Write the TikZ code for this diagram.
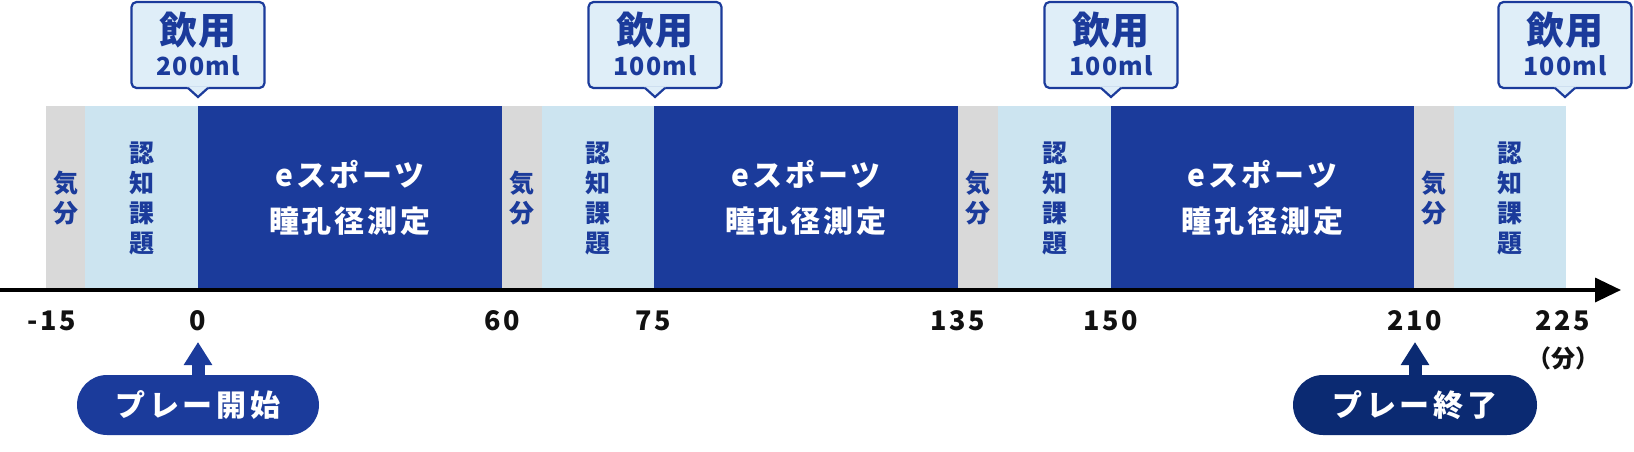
\documentclass[tikz,border=0pt]{standalone}
\usepackage{fontspec}
\setmainfont{Noto Sans CJK JP}
\usetikzlibrary{arrows.meta}
\definecolor{navy}{HTML}{1B3B9B}
\definecolor{navyd}{HTML}{0B2A72}
\definecolor{grayb}{HTML}{D9D9D9}
\definecolor{lightb}{HTML}{CCE4F0}
\definecolor{callf}{HTML}{DFEEF8}
\definecolor{ink}{HTML}{111111}
\begin{document}
\begin{tikzpicture}[x=1pt,y=-1pt,
  seg/.style={inner sep=0pt,outer sep=0pt,minimum height=184pt,align=center},
  moodseg/.style={seg,fill=grayb,text=navy,font=\fontsize{25}{30}\selectfont\bfseries},
  cogseg/.style={seg,fill=lightb,text=navy,font=\fontsize{25}{30}\selectfont\bfseries},
  playseg/.style={seg,fill=navy,text=white,font=\fontsize{30}{46}\selectfont\bfseries\addfontfeature{LetterSpace=10}},
  callbox/.style={draw=navy,line width=2.2pt,fill=callf,rounded corners=5pt,minimum width=133pt,minimum height=86pt,inner sep=0pt},
  calltitle/.style={text=navy,inner sep=0pt,font=\fontsize{38}{38}\selectfont\bfseries\addfontfeature{LetterSpace=5}},
  callamount/.style={text=navy,inner sep=0pt,font=\fontsize{25}{25}\selectfont\bfseries\addfontfeature{LetterSpace=4}},
  pointer/.style={draw=navy,line width=2.2pt,line join=miter},
  tick/.style={text=ink,anchor=base,inner sep=0pt,font=\fontsize{27}{27}\selectfont\bfseries\addfontfeature{LetterSpace=10}},
  unitlbl/.style={text=ink,inner sep=0pt,font=\fontsize{24}{24}\selectfont\bfseries},
  pill/.style={rounded corners=30pt,minimum height=60pt,text=white,inner sep=0pt,font=\fontsize{30}{30}\selectfont\bfseries\addfontfeature{LetterSpace=12}},
  uparr/.style={line width=13pt,-{Triangle[width=27pt,length=23pt]},shorten <=-2pt},
  axisline/.style={draw=black,line width=3.5pt,-{Triangle[width=24pt,length=26pt]}}
]
\useasboundingbox (0,0) rectangle (1634,452);

% segments
\node[moodseg,minimum width=39pt] (g1) at (65.5,198) {気\\分};
\node[cogseg,minimum width=113pt] (c1) at (141.5,198) {認\\知\\課\\題};
\node[playseg,minimum width=304pt] (p1) at (350,198) {eスポーツ\\瞳孔径測定};
\node[moodseg,minimum width=40pt] (g2) at (522,198) {気\\分};
\node[cogseg,minimum width=112pt] (c2) at (598,198) {認\\知\\課\\題};
\node[playseg,minimum width=304pt] (p2) at (806,198) {eスポーツ\\瞳孔径測定};
\node[moodseg,minimum width=40pt] (g3) at (978,198) {気\\分};
\node[cogseg,minimum width=113pt] (c3) at (1054.5,198) {認\\知\\課\\題};
\node[playseg,minimum width=303pt] (p3) at (1262.5,198) {eスポーツ\\瞳孔径測定};
\node[moodseg,minimum width=40pt] (g4) at (1434,198) {気\\分};
\node[cogseg,minimum width=112pt] (c4) at (1510,198) {認\\知\\課\\題};

% axis
\coordinate (ax0) at (0,290);
\coordinate (ax1) at (1621,290);
\draw[axisline] (ax0) -- (ax1);

% tick labels
\node[tick] (lm15) at (52,330) {-15};
\node[tick] (l0) at (198,330) {0};
\node[tick] (l60) at (502,330) {60};
\node[tick] (l75) at (653,330) {75};
\node[tick] (l135) at (958,330) {135};
\node[tick] (l150) at (1111,330) {150};
\node[tick] (l210) at (1415,330) {210};
\node[tick] (l225) at (1563,330) {225};
\node[unitlbl] (unit) at (1563,358) {（分）};

% callouts
\foreach \cx/\amt/\nm in {198/200ml/k1, 655/100ml/k2, 1111/100ml/k3, 1565/100ml/k4}{
  \node[callbox] (\nm) at (\cx,45) {};
  \fill[callf] (\cx-11,86.6) -- (\cx+11,86.6) -- (\cx,97) -- cycle;
  \draw[pointer] (\cx-10,88) -- (\cx,97) -- (\cx+10,88);
  \node[calltitle] (\nm t) at (\cx,30) {飲用};
  \node[callamount] (\nm a) at (\cx,66) {\amt};
}

% pills and arrows
\node[pill,fill=navy,minimum width=242pt] (s1) at (198,405) {プレー開始};
\node[pill,fill=navyd,minimum width=244pt] (s2) at (1415,405) {プレー終了};
\coordinate (t1) at (198,342);
\coordinate (t2) at (1415,342);
\draw[uparr,navy] (s1.north) -- (t1);
\draw[uparr,navyd] (s2.north) -- (t2);
\end{tikzpicture}
\end{document}
